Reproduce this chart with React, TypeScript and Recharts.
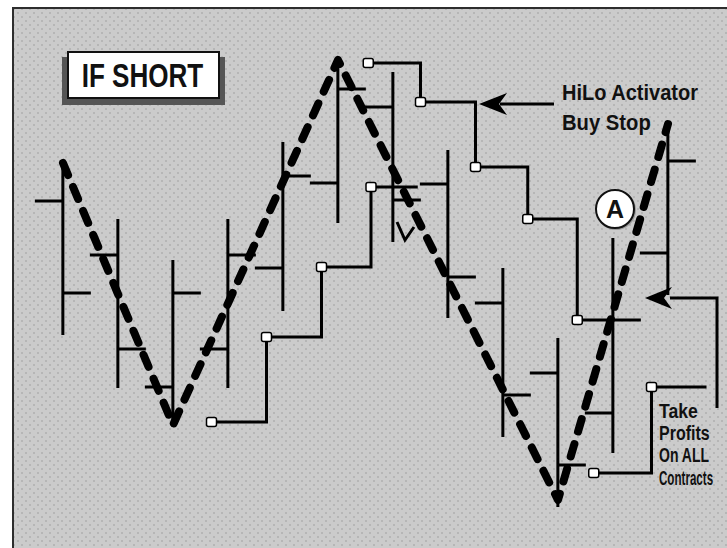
import { ComposedChart, Bar, Line, XAxis, YAxis, Customized } from 'recharts';

// price bars, one per session
const DAYS = [0, 1, 2, 3, 4, 5, 6, 7, 8, 9, 10, 11];
const HIGH = [96.25, 82.25, 72, 82.25, 101.5, 122.5, 119, 99.5, 70, 52.5, 77.5, 106.25];
const LOW = [53.25, 40, 30.25, 40, 59.25, 81.25, 76.5, 57.5, 27.75, 10.25, 23.75, 63.25];
const OPEN = [86.75, 73.25, 40.25, 49.75, 70, 91.25, 110.25, 91, 61.25, 43.75, 33.75, 73.75];
const CLOSE = [63.75, 49.75, 63.75, 73.25, 93, 114.75, 87, 67.75, 38.25, 20.75, 57, 96.75];

// swing zigzag
const SWING_DAYS = [0, 2, 5, 9, 11];
const SWING_PRICES = [96.25, 30.75, 122, 12, 106];

// HiLo activator sell stop (long side), last point is the end of the line
const SELL_STOP_DAYS = [2.7, 3.7, 4.7, 5.6, 6.45];
const SELL_STOP = [31.5, 52.75, 70.25, 90.25, 90.25];

// HiLo activator buy stop (short side)
const BUY_STOP_DAYS = [5.55, 6.5, 7.5, 8.45, 9.35, 10];
const BUY_STOP = [121.25, 111.5, 95.25, 82.25, 57, 57];

// take profit stop
const PROFIT_STOP_DAYS = [9.65, 10.7, 11.7];
const PROFIT_STOP = [18.75, 40.25, 40.25];

const bars = DAYS.map((x, i) => ({ x, high: HIGH[i], low: LOW[i], open: OPEN[i], close: CLOSE[i] }));
const swings = SWING_DAYS.map((x, i) => ({ x, price: SWING_PRICES[i] }));
const toStops = (days: number[], vals: number[]) => days.map((x, i) => ({ x, stop: vals[i] }));
const sellStops = toStops(SELL_STOP_DAYS, SELL_STOP);
const buyStops = toStops(BUY_STOP_DAYS, BUY_STOP);
const profitStops = toStops(PROFIT_STOP_DAYS, PROFIT_STOP);

const FONT = '"Liberation Sans", Arial, sans-serif';
const TICK = 28;

function OhlcShape(props: any) {
  const { x, y, width, height, index } = props;
  const d = bars[index];
  const top = Math.min(y, y + height);
  const bottom = Math.max(y, y + height);
  const span = d.high - d.low;
  const toY = (v: number) => top + ((d.high - v) / span) * (bottom - top);
  const cx = x + (width || 0) / 2;
  const yo = toY(d.open);
  const yc = toY(d.close);
  return (
    <g stroke="#000" strokeWidth={3} strokeLinecap="butt">
      <line x1={cx} x2={cx} y1={top} y2={bottom} />
      <line x1={cx - TICK} x2={cx} y1={yo} y2={yo} />
      <line x1={cx} x2={cx + TICK} y1={yc} y2={yc} />
    </g>
  );
}

const stopDot = (len: number) => (p: any) =>
  p.index === len - 1 ? (
    <g key={`e${p.index}`} />
  ) : (
    <rect
      key={`d${p.index}`}
      x={p.cx - 5}
      y={p.cy - 4.5}
      width={10}
      height={9}
      rx={2}
      fill="#fff"
      stroke="#000"
      strokeWidth={1.5}
    />
  );

function Annotations() {
  return (
    <g fontFamily={FONT} fontWeight="bold" fill="#111">
      {/* IF SHORT box */}
      <rect x={62} y={57} width={163} height={48} fill="#555" />
      <rect x={68} y={52} width={151} height={46} fill="#fff" stroke="#111" strokeWidth={2} />
      <text transform="translate(142.5,87) scale(0.79,1)" textAnchor="middle" fontSize={33}>
        IF SHORT
      </text>

      {/* HiLo Activator arrow */}
      <line x1={554} x2={500} y1={104} y2={104} stroke="#000" strokeWidth={3} />
      <polygon points="479,104 507,93 499,104 507,115" fill="#000" />
      <text transform="translate(562,100) scale(0.91,1)" fontSize={22}>
        HiLo Activator
      </text>
      <text transform="translate(562,130) scale(0.92,1)" fontSize={22}>
        Buy Stop
      </text>

      {/* A marker */}
      <circle cx={616} cy={210} r={20} fill="#999" />
      <circle cx={615} cy={209} r={19} fill="#fff" stroke="#111" strokeWidth={2} />
      <text x={615} y={218} textAnchor="middle" fontSize={25}>
        A
      </text>

      {/* Take profits arrow */}
      <polyline points="717,408 717,298 670,298" fill="none" stroke="#000" strokeWidth={3} />
      <polygon points="645,298 672,287 664,298 672,309" fill="#000" />
      <g fontSize={20}>
        <text transform="translate(659,418) scale(0.88,1)">Take</text>
        <text transform="translate(659,440) scale(0.8,1)">Profits</text>
        <text transform="translate(659,462) scale(0.7,1)">On ALL</text>
        <text transform="translate(659,485) scale(0.58,1)">Contracts</text>
      </g>

      {/* entry mark */}
      <polyline points="397,222 405,240 414,227" fill="none" stroke="#000" strokeWidth={3} />
    </g>
  );
}

export default function App() {
  return (
    <div style={{ position: 'relative', width: 727, height: 548, overflow: 'hidden', background: '#fff' }}>
      <style>{'body{margin:0}'}</style>
      <div
        style={{
          position: 'absolute',
          left: 12,
          top: 7,
          width: 740,
          height: 560,
          borderTop: '2px solid #2d2d2d',
          borderLeft: '2px solid #2d2d2d',
          backgroundColor: '#cbcbcb',
          backgroundImage:
            'radial-gradient(circle, #b6b6b6 0.9px, transparent 1.3px), radial-gradient(circle, #b6b6b6 0.9px, transparent 1.3px)',
          backgroundSize: '8px 8px',
          backgroundPosition: '0 0, 4px 4px',
        }}
      />
      <div style={{ position: 'absolute', left: 0, top: 0 }}>
        <ComposedChart width={727} height={548} data={bars} margin={{ top: 8, right: 4, bottom: 0, left: 8 }}>
          <XAxis type="number" dataKey="x" domain={[-1, 12]} hide />
          <YAxis type="number" domain={[0, 135]} hide />
          <Bar
            dataKey={(d: any) => [d.low, d.high]}
            barSize={56}
            shape={OhlcShape}
            isAnimationActive={false}
          />
          <Line
            data={sellStops}
            dataKey="stop"
            type="stepAfter"
            stroke="#000"
            strokeWidth={3}
            dot={stopDot(sellStops.length)}
            activeDot={false}
            isAnimationActive={false}
          />
          <Line
            data={buyStops}
            dataKey="stop"
            type="stepAfter"
            stroke="#000"
            strokeWidth={3}
            dot={stopDot(buyStops.length)}
            activeDot={false}
            isAnimationActive={false}
          />
          <Line
            data={profitStops}
            dataKey="stop"
            type="stepAfter"
            stroke="#000"
            strokeWidth={3}
            dot={stopDot(profitStops.length)}
            activeDot={false}
            isAnimationActive={false}
          />
          <Line
            data={swings}
            dataKey="price"
            type="linear"
            stroke="#000"
            strokeWidth={8}
            strokeDasharray="13 13"
            strokeLinecap="round"
            strokeLinejoin="round"
            dot={false}
            activeDot={false}
            isAnimationActive={false}
          />
          <Customized component={Annotations} />
        </ComposedChart>
      </div>
    </div>
  );
}
